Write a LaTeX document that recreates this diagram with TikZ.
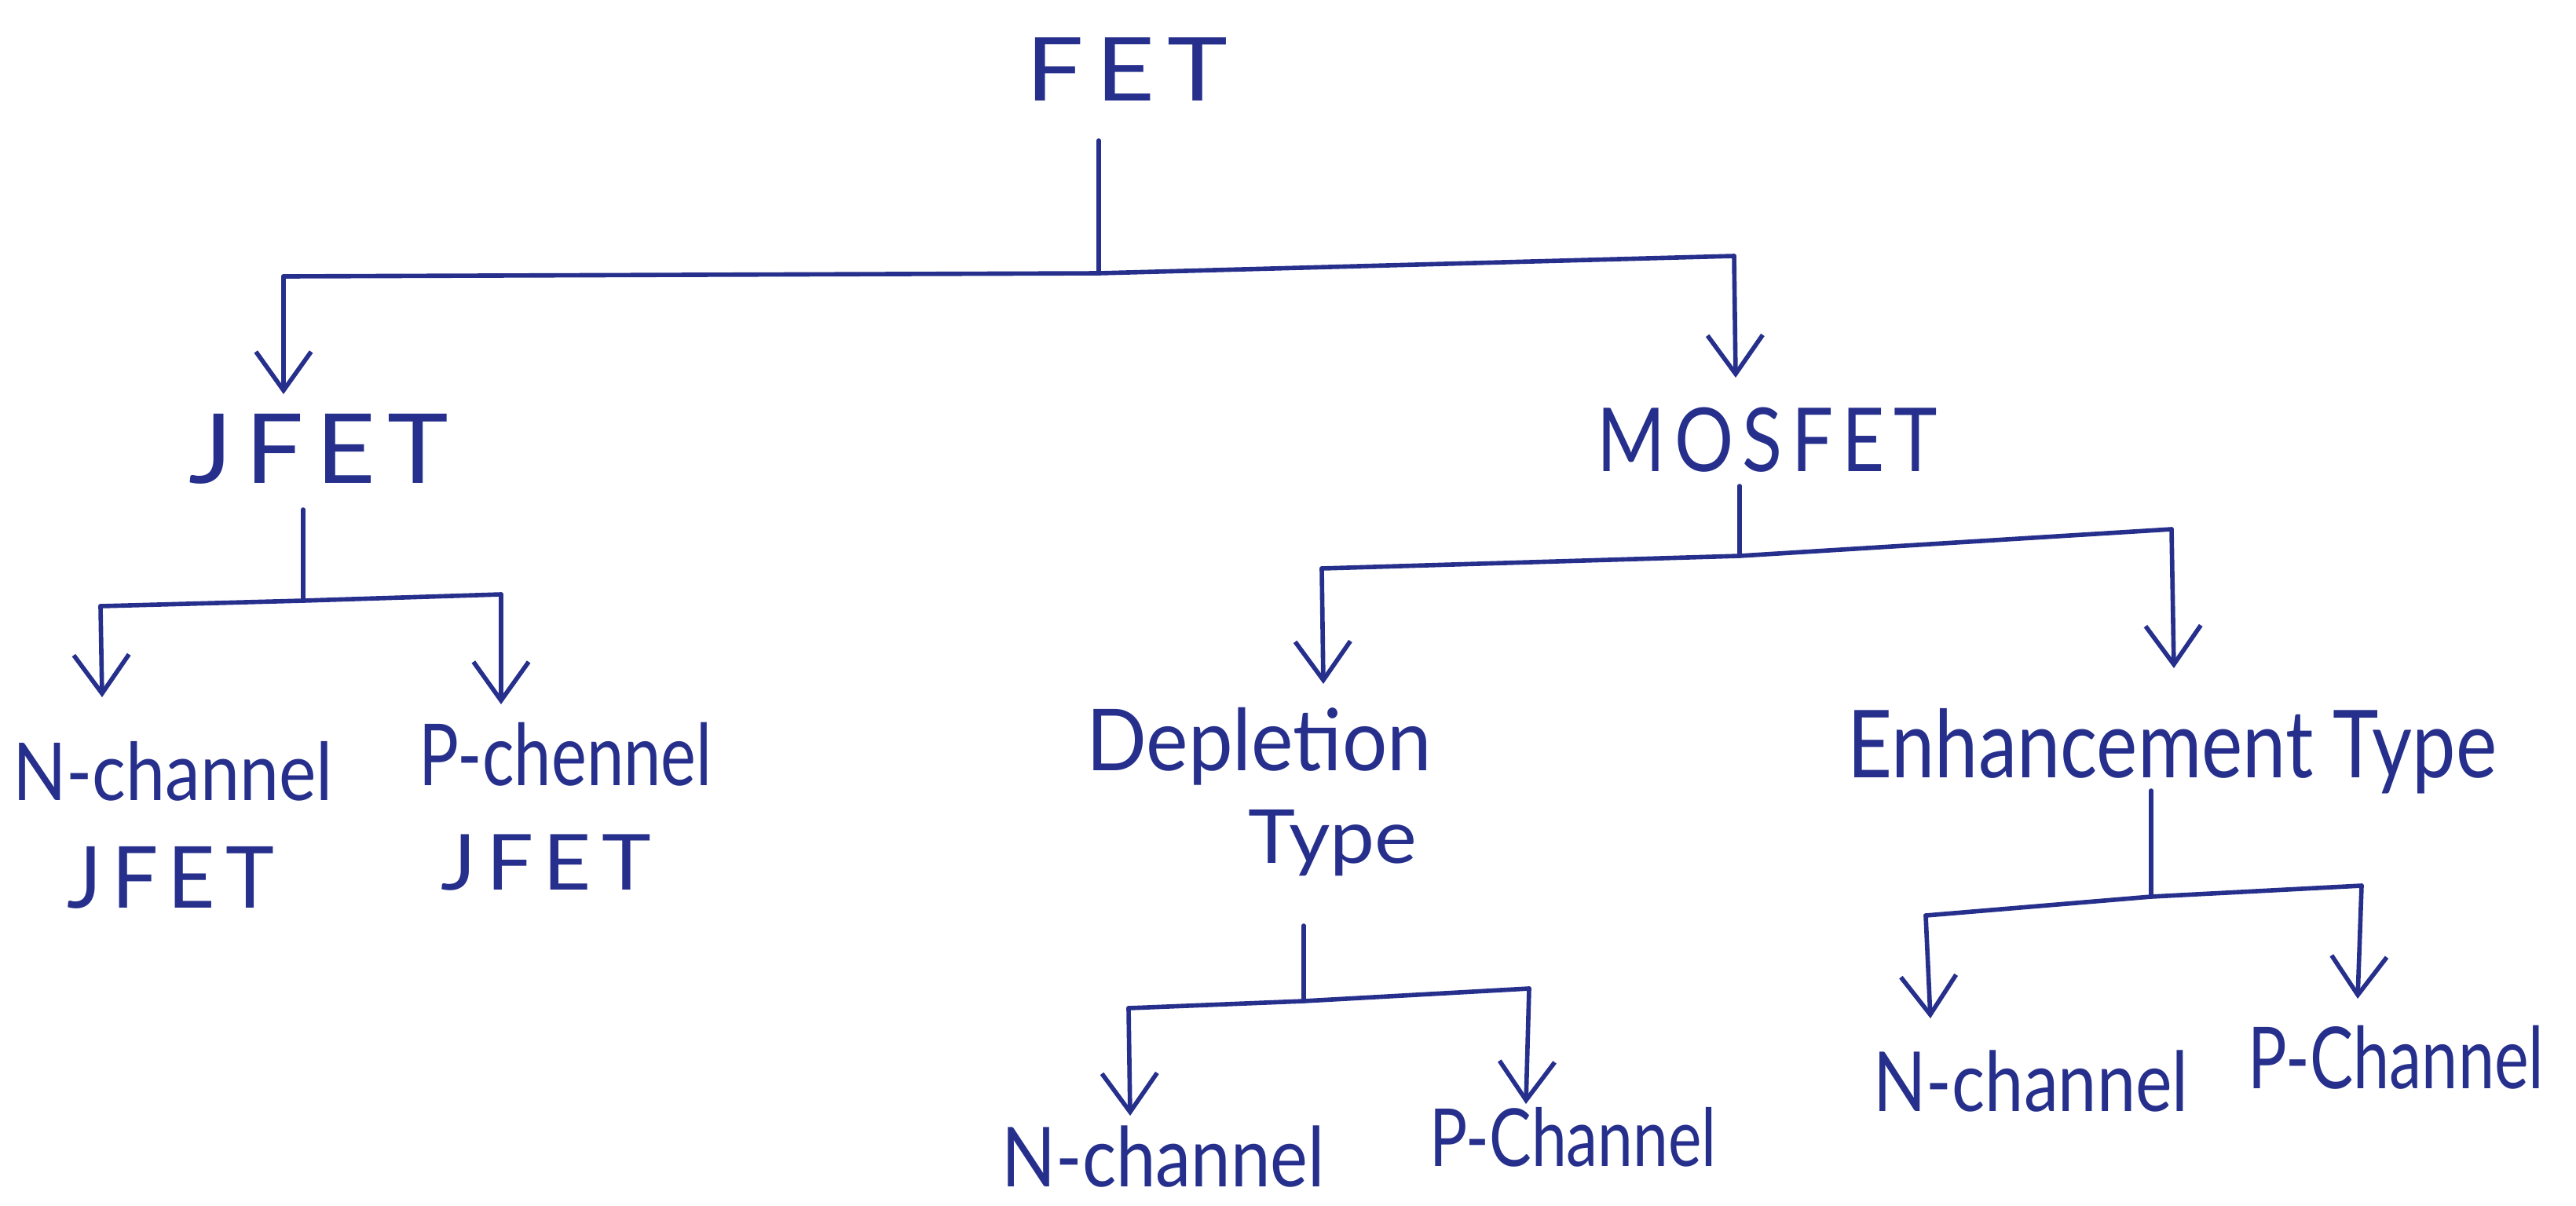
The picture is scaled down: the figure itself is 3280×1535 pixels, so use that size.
\documentclass[tikz,border=0pt]{standalone}
\usepackage{fontspec}
\IfFontExistsTF{Lato}{\setmainfont{Lato}}{\setmainfont{Open Sans}}
\usepackage{graphicx}
\usetikzlibrary{arrows.meta}
\definecolor{ink}{RGB}{38,48,140}
\newcommand\hw[3]{\fontsize{#1}{#1}\selectfont\resizebox{#2}{\height}{#3}}
\newcommand\hwc[3]{\fontsize{#1}{#1}\selectfont\addfontfeature{LetterSpace=12}\resizebox{#2}{\height}{#3}}
\begin{document}
\begin{tikzpicture}[x=0.01cm,y=-0.01cm,
  lbl/.style={text=ink, inner sep=0pt, anchor=base},
  ln/.style={draw=ink, line width=1.6pt, line cap=round, line join=round},
  arr/.style={ln, -{Straight Barb[length=14pt,width=20pt]}}]
\fill[white] (0,0) rectangle (3280,1535);
\useasboundingbox (0,0) rectangle (3280,1535);

% labels
\node[lbl] (fet)   at (1435,128)  {\hwc{32pt}{73pt}{FET}};
\node[lbl] (jfet)  at (406,615)   {\hwc{35pt}{94pt}{JFET}};
\node[lbl] (mos)   at (2250,600)  {\hwc{32pt}{123pt}{MOSFET}};
\node[lbl] (nj)    at (220,1019)  {\hw{29pt}{116pt}{N-channel}};
\node[lbl] (nj2)   at (217,1156)  {\hwc{31pt}{75pt}{JFET}};
\node[lbl] (pj)    at (720,1000)  {\hw{31pt}{106pt}{P-chennel}};
\node[lbl] (pj2)   at (695,1133)  {\hwc{28pt}{76pt}{JFET}};
\node[lbl] (dep)   at (1603,981)  {\hw{31pt}{125pt}{Depletion}};
\node[lbl] (dep2)  at (1697,1099) {\hw{27pt}{61pt}{Type}};
\node[lbl] (dn)    at (1481,1511) {\hw{30pt}{117pt}{N-channel}};
\node[lbl] (dp)    at (2003,1485) {\hw{29pt}{104pt}{P-Channel}};
\node[lbl] (enh)   at (2766,990)  {\hw{34pt}{235pt}{Enhancement Type}};
\node[lbl] (en)    at (2586,1415) {\hw{30pt}{114pt}{N-channel}};
\node[lbl] (ep)    at (3051,1386) {\hw{31pt}{107pt}{P-Channel}};

% junction coordinates
\coordinate (fetTop) at (1399,179);  \coordinate (fetJ) at (1399,348);
\coordinate (fetL) at (361,352);     \coordinate (fetR) at (2208,326);
\coordinate (jfetTip) at (361,502);  \coordinate (mosTip) at (2210,481);

\coordinate (jTop) at (386,649);     \coordinate (jJ) at (386,765);
\coordinate (jL) at (128,772);       \coordinate (jR) at (638,757);
\coordinate (njTip) at (130,888);    \coordinate (pjTip) at (638,897);

\coordinate (mTop) at (2215,619);    \coordinate (mJ) at (2215,708);
\coordinate (mL) at (1683,724);      \coordinate (mR) at (2765,674);
\coordinate (depTip) at (1685,871);  \coordinate (enhTip) at (2768,851);

\coordinate (dTop) at (1660,1179);   \coordinate (dJ) at (1660,1275);
\coordinate (dL) at (1437,1284);     \coordinate (dR) at (1947,1259);
\coordinate (dnTip) at (1439,1421);  \coordinate (dpTip) at (1943,1406);

\coordinate (eTop) at (2739,1007);   \coordinate (eJ) at (2739,1142);
\coordinate (eL) at (2452,1166);     \coordinate (eR) at (3007,1128);
\coordinate (enTip) at (2458,1297);  \coordinate (epTip) at (3002,1272);

% FET
\draw[ln] (fetTop) -- (fetJ);
\draw[ln] (fetL) -- (fetJ) -- (fetR);
\draw[arr] (fetL) -- (jfetTip);
\draw[arr] (fetR) -- (mosTip);
% JFET
\draw[ln] (jTop) -- (jJ);
\draw[ln] (jL) -- (jJ) -- (jR);
\draw[arr] (jL) -- (njTip);
\draw[arr] (jR) -- (pjTip);
% MOSFET
\draw[ln] (mTop) -- (mJ);
\draw[ln] (mL) -- (mJ) -- (mR);
\draw[arr] (mL) -- (depTip);
\draw[arr] (mR) -- (enhTip);
% Depletion
\draw[ln] (dTop) -- (dJ);
\draw[ln] (dL) -- (dJ) -- (dR);
\draw[arr] (dL) -- (dnTip);
\draw[arr] (dR) -- (dpTip);
% Enhancement
\draw[ln] (eTop) -- (eJ);
\draw[ln] (eL) -- (eJ) -- (eR);
\draw[arr] (eL) -- (enTip);
\draw[arr] (eR) -- (epTip);
\end{tikzpicture}
\end{document}
